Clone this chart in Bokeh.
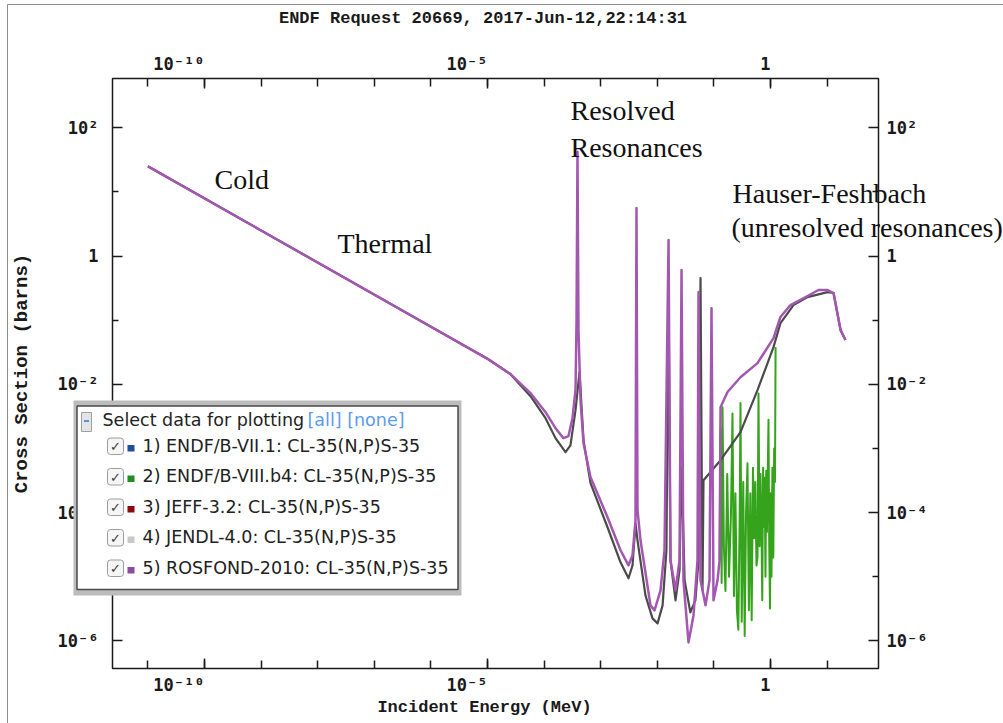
from bokeh.plotting import figure
from bokeh.models import (LogAxis, FixedTicker, CustomJSTickFormatter, Label,
                          BoxAnnotation, Range1d)
from bokeh.embed import file_html
from bokeh.resources import INLINE

# ---------------------------------------------------------------- ticks
x_major = [1e-10, 1e-5, 1.0]
x_tick_text = ["10⁻¹⁰", "10⁻⁵", "1"]
x_minor = [1e-11, 1e-10, 1e-9, 1e-8, 1e-7, 1e-6, 1e-5, 1e-4, 1e-3, 1e-2, 1e-1, 1.0, 10.0]
y_major = [1e-6, 1e-4, 1e-2, 1.0, 1e2]
y_tick_text = ["10⁻⁶", "10⁻⁴", "10⁻²", "1", "10²"]
y_minor = [1e-5, 1e-3, 1e-1, 10.0]

# ---------------------------------------------------------------- libraries
library_labels = ["1) ENDF/B-VII.1: CL-35(N,P)S-35",
                  "2) ENDF/B-VIII.b4: CL-35(N,P)S-35",
                  "3) JEFF-3.2: CL-35(N,P)S-35",
                  "4) JENDL-4.0: CL-35(N,P)S-35",
                  "5) ROSFOND-2010: CL-35(N,P)S-35"]
library_colors = ["#1d4f9c", "#1f8f1f", "#8b0b0b", "#c8c8c8", "#8a4c9c"]

# ---------------------------------------------------------------- cross sections (MeV, barns)
# 1/v region shared by all evaluations
thermal_E = [1e-11, 1e-9, 1e-7, 1e-6, 1e-5, 2.55e-5]
thermal_sigma = [25.0, 2.5, 0.25, 0.079, 0.025, 0.0144]

rosfond_E = [5.75e-5, 1.06e-4, 1.59e-4, 2.20e-4, 2.70e-4, 3.17e-4, 3.59e-4, 3.74e-4, 3.89e-4,
             4.05e-4, 4.40e-4, 4.97e-4, 6.61e-4, 1.32e-3, 2.24e-3, 3.10e-3, 3.65e-3, 4.12e-3,
             4.29e-3, 4.47e-3, 5.05e-3, 7.58e-3, 8.93e-3, 1.14e-2, 1.34e-2, 1.45e-2, 1.58e-2,
             1.71e-2, 2.10e-2, 2.47e-2, 2.68e-2, 2.90e-2, 3.56e-2, 4.36e-2, 5.13e-2, 5.35e-2,
             5.80e-2, 7.11e-2, 8.36e-2, 9.07e-2, 9.84e-2, 0.116, 0.126, 0.131, 0.174, 0.295,
             0.589, 1.13, 1.50, 2.26, 4.51, 7.05, 10.2, 13.0, 17.3, 21.1]
rosfond_sigma = [0.0073, 0.00368, 0.00207, 0.00145, 0.00156, 0.00297, 0.0081, 0.100, 42.0,
                 0.070, 0.00567, 0.00121, 3.57e-4, 8.5e-5, 2.59e-5, 1.51e-5, 2.16e-5, 7.6e-5,
                 5.6, 1.09e-4, 3.71e-5, 3.59e-6, 3.0e-6, 6.15e-6, 2.59e-5, 5.67e-3, 1.78,
                 1.81e-5, 6.15e-6, 1.81e-5, 0.605, 8.8e-6, 9.5e-7, 2.5e-6, 1.81e-5, 0.274,
                 8.8e-6, 3.59e-6, 8.8e-6, 0.154, 4.3e-6, 8.8e-6, 1.81e-5, 4.4e-3, 7.6e-3, 0.0129,
                 0.0214, 0.0526, 0.112, 0.172, 0.238, 0.295, 0.295, 0.265, 0.070, 0.049]

jendl_E = [5.75e-5, 1.06e-4, 1.59e-4, 2.39e-4, 2.92e-4, 3.59e-4, 4.22e-4, 4.97e-4, 6.61e-4,
           1.32e-3, 2.24e-3, 3.10e-3, 3.65e-3, 4.12e-3, 4.47e-3, 6.19e-3, 8.23e-3, 1.01e-2,
           1.24e-2, 1.45e-2, 1.58e-2, 1.71e-2, 2.10e-2, 2.47e-2, 2.68e-2, 3.04e-2, 3.83e-2,
           4.71e-2, 5.35e-2, 5.80e-2, 6.29e-2, 6.55e-2, 0.131, 0.295, 0.589, 1.13, 1.50, 2.55,
           4.51, 10.2, 13.0, 17.3, 21.1]
jendl_sigma = [0.00654, 0.00297, 0.00145, 8.75e-4, 1.12e-3, 3.96e-3, 0.0155, 1.35e-3, 2.88e-4,
               5.92e-5, 1.68e-5, 9.5e-6, 1.51e-5, 6.8e-5, 3.7e-5, 5.1e-6, 2.25e-6, 1.88e-6,
               3.59e-6, 2.59e-5, 0.229, 1.81e-5, 4.3e-6, 1.26e-5, 5.1e-4, 8.8e-6, 2.8e-6,
               4.3e-6, 1.81e-5, 0.454, 6.15e-6, 3.2e-4, 6.57e-4, 1.80e-3, 8.1e-3, 0.038, 0.090,
               0.172, 0.229, 0.274, 0.265, 0.070, 0.049]

# ENDF/B-VIII.b4 unresolved-resonance fluctuations
endf8_E = [0.126, 0.131, 0.137, 0.142, 0.150, 0.160, 0.172, 0.185, 0.200, 0.213,
           0.226, 0.240, 0.255, 0.270, 0.285, 0.295, 0.310, 0.330, 0.350, 0.370,
           0.392, 0.415, 0.440, 0.465, 0.490, 0.515, 0.540, 0.565, 0.590, 0.614,
           0.640, 0.665, 0.690, 0.715, 0.740, 0.765, 0.790, 0.815, 0.840, 0.865,
           0.890, 0.922, 0.950, 0.980, 1.01, 1.04, 1.08, 1.12, 1.16, 1.20, 1.23]
endf8_sigma = [1.8e-5, 2.0e-3, 8.0e-6, 4.4e-3, 3.0e-5, 6.0e-6, 4.0e-4, 1.0e-5, 9.0e-5, 3.5e-3,
               5.0e-6, 2.0e-4, 3.0e-6, 1.5e-6, 8.0e-5, 5.1e-3, 2.0e-6, 3.0e-4, 1.2e-6, 1.0e-4,
               5.9e-4, 3.0e-6, 2.0e-4, 2.1e-6, 5.0e-4, 4.0e-5, 3.0e-4, 1.5e-5, 2.0e-5, 7.2e-3,
               3.0e-5, 4.0e-4, 8.0e-5, 4.3e-6, 5.0e-4, 6.0e-5, 3.5e-4, 1.0e-5, 4.5e-4, 5.0e-5,
               3.0e-4, 2.8e-3, 3.0e-5, 3.2e-6, 2.0e-4, 1.0e-5, 5.0e-4, 2.0e-5, 1.0e-3, 3.0e-4,
               0.038]

# ---------------------------------------------------------------- page geometry
# The frame covers the whole page; axes sit at fixed positions around the plotting box.
W, H = 1003, 723
X_ONE, X_DEC = 770.0, 56.6      # page x of 1 MeV, pixels per decade
Y_ONE, Y_DEC = 255.5, 64.16     # page y of 1 barn, pixels per decade
PL, PR, PT, PB = 112, 878, 78, 668


def at_x(px):
    return 10 ** ((px - X_ONE) / X_DEC)


def at_y(py):
    return 10 ** ((Y_ONE - py) / Y_DEC)


p = figure(width=W, height=H, x_axis_type="log", y_axis_type="log",
           x_axis_location=None, y_axis_location=None,
           x_range=Range1d(at_x(0), at_x(W)), y_range=Range1d(at_y(H), at_y(0)),
           output_backend="svg", toolbar_location=None, min_border=0)
p.title.visible = False
p.outline_line_color = None
p.grid.visible = False
p.background_fill_color = "white"
p.border_fill_color = "white"

INK = "#1a1a1a"
MONO = "Liberation Mono"
TICK_FONT = "DejaVu Sans Mono"


def add_axis(side, loc, bounds, major, minor, minor_len, fmt, standoff):
    ax = LogAxis(fixed_location=loc, bounds=bounds, formatter=fmt)
    ax.ticker = FixedTicker(ticks=major, minor_ticks=minor)
    ax.axis_line_color = None
    ax.major_tick_in = 10
    ax.major_tick_out = 0
    ax.minor_tick_in = minor_len
    ax.minor_tick_out = 0
    ax.major_tick_line_color = INK
    ax.minor_tick_line_color = INK
    ax.major_tick_line_width = 1.5
    ax.minor_tick_line_width = 1.5
    ax.major_label_text_font = TICK_FONT
    ax.major_label_text_font_style = "bold"
    ax.major_label_text_font_size = "17px"
    ax.major_label_text_color = INK
    ax.major_label_standoff = standoff
    ax.axis_label_text_font = MONO
    ax.axis_label_text_font_style = "bold"
    ax.axis_label_text_color = INK
    p.add_layout(ax, side)
    return ax


# x labels end at their tick: pad each label with no-break spaces of equal width
x_fmt = CustomJSTickFormatter(args=dict(vals=x_major, labels=x_tick_text), code="""
for (let i = 0; i < vals.length; i++) {
  if (Math.abs(Math.log10(vals[i]) - Math.log10(tick)) < 1e-6)
    return labels[i] + "\\u00a0".repeat(labels[i].length);
}
return "";
""")
y_fmt = CustomJSTickFormatter(args=dict(vals=y_major, labels=y_tick_text), code="""
for (let i = 0; i < vals.length; i++) {
  if (Math.abs(Math.log10(vals[i]) - Math.log10(tick)) < 1e-6) return labels[i];
}
return "";
""")

x_bounds = (at_x(PL), at_x(PR))
y_bounds = (at_y(PB), at_y(PT))
bottom = add_axis("below", at_y(PB), (at_x(PL), at_x(856)), x_major, x_minor, 8, x_fmt, 6)
top = add_axis("above", at_y(PT), x_bounds, x_major, x_minor, 8, x_fmt, 5)
left = add_axis("left", at_x(PL), y_bounds, y_major, y_minor, 6, y_fmt, 14)
right = add_axis("right", at_x(PR), y_bounds, y_major, y_minor, 6, y_fmt, 8)

bottom.axis_label = "Incident Energy (MeV)"
bottom.axis_label_text_font_size = "17px"
bottom.axis_label_standoff = 0
left.axis_label = "Cross Section (barns)"
left.axis_label_text_font_size = "19px"
left.axis_label_standoff = 22

# page border and plotting box
p.add_layout(BoxAnnotation(left=at_x(7), right=at_x(W + 10), top=at_y(4), bottom=at_y(H + 10),
                           fill_color=None, line_color="#8c8c8c", line_width=1, line_alpha=1))
p.add_layout(BoxAnnotation(left=at_x(PL), right=at_x(PR), top=at_y(PT), bottom=at_y(PB),
                           fill_color=None, line_color=INK, line_width=1.5, line_alpha=1))

# ---------------------------------------------------------------- curves
p.line(endf8_E, endf8_sigma, line_color="#36a31c", line_width=2.0, line_join="round")
p.line(thermal_E + jendl_E, thermal_sigma + jendl_sigma, line_color="#4b4b4b",
       line_width=2.2, line_join="round")
p.line(thermal_E + rosfond_E, thermal_sigma + rosfond_sigma, line_color="#a457b0",
       line_width=2.5, line_join="round")

# title
p.add_layout(Label(x=at_x(482.5), y=at_y(17.5), text="ENDF Request 20669, 2017-Jun-12,22:14:31",
                   text_align="center", text_baseline="middle", text_font=MONO,
                   text_font_style="bold", text_font_size="17px", text_color=INK))

# ---------------------------------------------------------------- region notes
SERIF = "Liberation Serif"
notes = [("Cold", 214, 178.5), ("Thermal", 337, 242.5), ("Resolved", 570, 109.5),
         ("Resonances", 570, 146.5), ("Hauser-Feshbach", 732, 192.5),
         ("(unresolved resonances)", 731, 226.5)]
for txt, px, py in notes:
    p.add_layout(Label(x=at_x(px), y=at_y(py), text=txt, text_font=SERIF,
                       text_font_size="28px", text_color="#111111",
                       text_align="left", text_baseline="middle"))


# ---------------------------------------------------------------- selection panel
def box(l, r, t, b, **kw):
    kw.setdefault("fill_alpha", 1.0)
    kw.setdefault("line_alpha", 1.0)
    return BoxAnnotation(left=at_x(l), right=at_x(r), top=at_y(t), bottom=at_y(b), **kw)


p.add_layout(box(73, 461, 400, 595, fill_color="#bcbcbc", line_color=None))
p.add_layout(box(76.5, 457.5, 405.5, 589, fill_color="white", line_color="#4a4a4a", line_width=1.5))
p.add_layout(box(81, 91, 412, 431, fill_color="#e4e4e4", line_color="#a0a0a0", line_width=1))
p.add_layout(box(83.5, 88.5, 419.5, 421.5, fill_color="#5b8fe0", line_color=None))

SANS = "DejaVu Sans"
p.add_layout(Label(x=at_x(102), y=at_y(419.5), text="Select data for plotting", text_font=SANS,
                   text_font_size="17.5px", text_color="#222222", text_baseline="middle"))
p.add_layout(Label(x=at_x(307), y=at_y(419.5), text="[all] [none]", text_font=SANS,
                   text_font_size="17.5px", text_color="#5b9bf0", text_baseline="middle"))

for i, (lab, col) in enumerate(zip(library_labels, library_colors)):
    cy = 445 + 30.5 * i
    p.add_layout(box(107, 123, cy - 7.5, cy + 9, fill_color="#f6f6f6", line_color="#9c9c9c",
                     line_width=1, border_radius=3))
    p.add_layout(Label(x=at_x(115), y=at_y(cy + 1), text="✓", text_font=SANS,
                       text_font_size="13px", text_color="#3a3a3a",
                       text_align="center", text_baseline="middle"))
    p.add_layout(box(127, 134, cy - 0.5, cy + 6, fill_color=col, line_color=None))
    p.add_layout(Label(x=at_x(142), y=at_y(cy), text=lab, text_font=SANS,
                       text_font_size="17.5px", text_color="#222222",
                       text_baseline="middle"))

open("out.html", "w").write(file_html(p, INLINE))
